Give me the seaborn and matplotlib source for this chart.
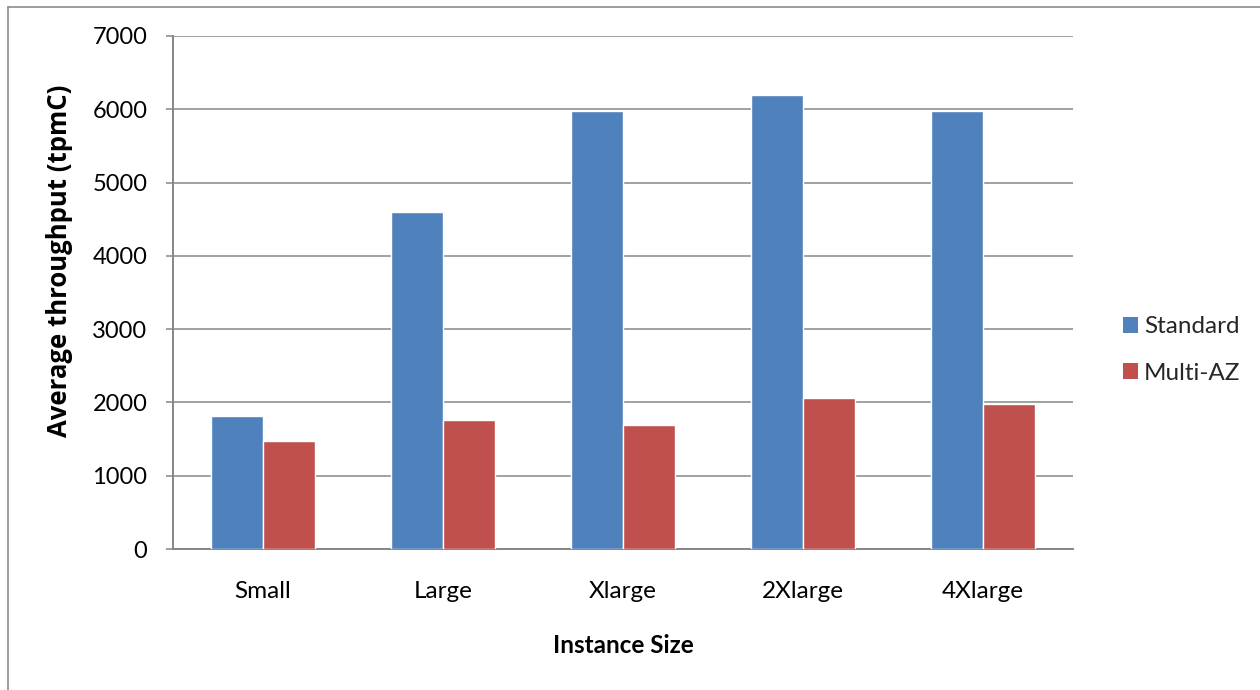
import matplotlib
matplotlib.use("Agg")
import matplotlib.pyplot as plt
import matplotlib.lines as mlines
import seaborn as sns
import pandas as pd

# Benchmark results: average TPC-C throughput per RDS instance size
instance_sizes = ["Small", "Large", "Xlarge", "2Xlarge", "4Xlarge"]
standard_tpmc = [1810, 4600, 5970, 6200, 5970]
multi_az_tpmc = [1470, 1760, 1690, 2060, 1980]
series_names = ["Standard", "Multi-AZ"]
y_ticks = [0, 1000, 2000, 3000, 4000, 5000, 6000, 7000]

df = pd.DataFrame({
    "Instance Size": instance_sizes * 2,
    "tpmC": standard_tpmc + multi_az_tpmc,
    "Deployment": [series_names[0]] * len(instance_sizes) + [series_names[1]] * len(instance_sizes),
})

sns.set_theme(style="white")
plt.rcParams["font.family"] = ["Lato", "DejaVu Sans"]

grid_grey = "#868686"
fig = plt.figure(figsize=(12.6, 6.9), dpi=100)
ax = fig.add_axes([173 / 1260, 1 - 549 / 690, 900 / 1260, 513 / 690])

sns.barplot(
    data=df, x="Instance Size", y="tpmC", hue="Deployment",
    order=instance_sizes, hue_order=series_names,
    palette=["#4F81BD", "#C0504D"], saturation=1, width=0.573,
    gap=0, errorbar=None, ax=ax, zorder=3, legend=False,
)

ax.set_xlim(-0.5, len(instance_sizes) - 0.5)
ax.set_ylim(0, 7000)
ax.set_yticks(y_ticks)
ax.set_yticklabels([str(v) for v in y_ticks])
ax.yaxis.grid(True, color=grid_grey, linewidth=1.1, zorder=0)
ax.set_axisbelow(True)

for side in ("top", "right"):
    ax.spines[side].set_visible(False)
for side in ("left", "bottom"):
    ax.spines[side].set_color(grid_grey)
    ax.spines[side].set_linewidth(1.4)

ax.tick_params(axis="y", left=True, length=5, width=1.1, color=grid_grey,
               pad=13.5, labelsize=17, labelcolor="black")
ax.tick_params(axis="x", bottom=False, length=0, pad=23, labelsize=17.5,
               labelcolor="black")

ax.set_xlabel("Instance Size", fontsize=17.5, fontweight="bold", color="black",
              va="top")
ax.xaxis.set_label_coords(0.5, -0.165)
ax.set_ylabel("Average throughput (tpmC)", fontsize=18.5, fontweight="bold",
              color="black", family=["Open Sans", "DejaVu Sans"])
ax.yaxis.set_label_coords(-0.111, 0.561)

# Legend with square swatches to the right of the plot area
handles = [
    plt.Rectangle((0, 0), 1, 1, facecolor=c, edgecolor="none")
    for c in ["#4F81BD", "#C0504D"]
]
fig.legend(
    handles, series_names, loc="center left",
    bbox_to_anchor=(1113 / 1260, 1 - 350 / 690),
    frameon=False, fontsize=17.5, handlelength=0.62, handleheight=0.62,
    handletextpad=0.25, labelspacing=1.05, borderaxespad=0,
)

# Chart frame: left and top edges
fig.add_artist(mlines.Line2D([8 / 1260, 8 / 1260], [0, 1 - 7 / 690],
                             transform=fig.transFigure, color="#8c8c8c", linewidth=1.2))
fig.add_artist(mlines.Line2D([8 / 1260, 1], [1 - 7 / 690, 1 - 7 / 690],
                             transform=fig.transFigure, color="#8c8c8c", linewidth=1.2))

fig.savefig("out.png", dpi=100, facecolor="white")
